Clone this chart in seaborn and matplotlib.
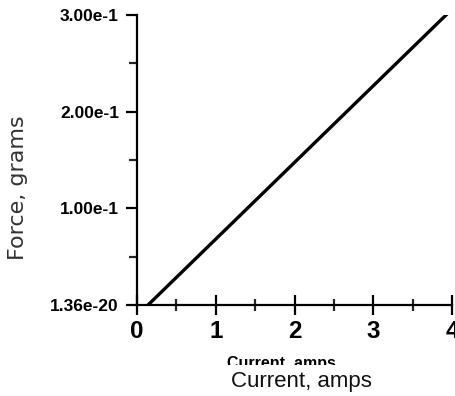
import matplotlib
matplotlib.use("Agg")
import matplotlib.pyplot as plt
from matplotlib.ticker import FixedLocator, MultipleLocator
from matplotlib.transforms import Bbox
import seaborn as sns
import pandas as pd

current_amps = [0.14, 4.0]
force_grams = [0.0, 0.306]
x_ticks = [0, 1, 2, 3, 4]
x_tick_labels = ["0", "1", "2", "3", "4"]
y_ticks = [0.0, 0.1, 0.2, 0.3]
y_tick_labels = ["1.36e-20", "1.00e-1", "2.00e-1", "3.00e-1"]

sns.set_style("ticks")
plt.rcParams["font.family"] = ["Liberation Sans", "DejaVu Sans"]

W, H = 455, 396
fig = plt.figure(figsize=(W / 100, H / 100), dpi=100)
ax = fig.add_axes([137 / W, 1 - 305 / H, (452 - 137) / W, (305 - 15) / H])

df = pd.DataFrame({"Current": current_amps, "Force": force_grams})
sns.lineplot(data=df, x="Current", y="Force", ax=ax, color="black", linewidth=2.4)

ax.set_xlim(0, 4)
ax.set_ylim(0, 0.3)
ax.xaxis.set_major_locator(FixedLocator(x_ticks))
ax.set_xticklabels(x_tick_labels, fontsize=17.5, fontweight="bold")
ax.xaxis.set_minor_locator(MultipleLocator(0.5))
ax.yaxis.set_major_locator(FixedLocator(y_ticks))
ax.set_yticklabels(y_tick_labels, fontsize=12.5, fontweight="bold")
ax.yaxis.set_minor_locator(MultipleLocator(0.05))

for s in ["top", "right"]:
    ax.spines[s].set_visible(False)
for s in ["left", "bottom"]:
    ax.spines[s].set_linewidth(1.6)
    ax.spines[s].set_color("black")

ax.tick_params(axis="x", which="major", direction="inout", length=14, width=1.6, pad=4, colors="black")
ax.tick_params(axis="x", which="minor", direction="inout", length=8, width=1.6)
ax.tick_params(axis="y", which="major", direction="out", length=8, width=1.6, pad=5, colors="black")
ax.tick_params(axis="y", which="minor", direction="out", length=6, width=1.6)

ax.set_xlabel("")
ax.set_ylabel("")

fig.text(301 / W, 1 - 387 / H, "Current, amps", ha="center", va="baseline",
         fontsize=16, color="#111111")
ghost = fig.text(281 / W, 1 - 368 / H, "Current, amps", ha="center", va="baseline",
                 fontsize=11.5, fontweight="bold", color="black")
ghost.set_clip_box(Bbox.from_extents(0, H - 365, W, H - 354))
ghost.set_clip_on(True)

fig.text(18 / W, 1 - 188 / H, "Force, grams", ha="center", va="center", rotation=90,
         fontsize=16, family=["DejaVu Sans"], color="#333333")

fig.savefig("out.png", dpi=100)
